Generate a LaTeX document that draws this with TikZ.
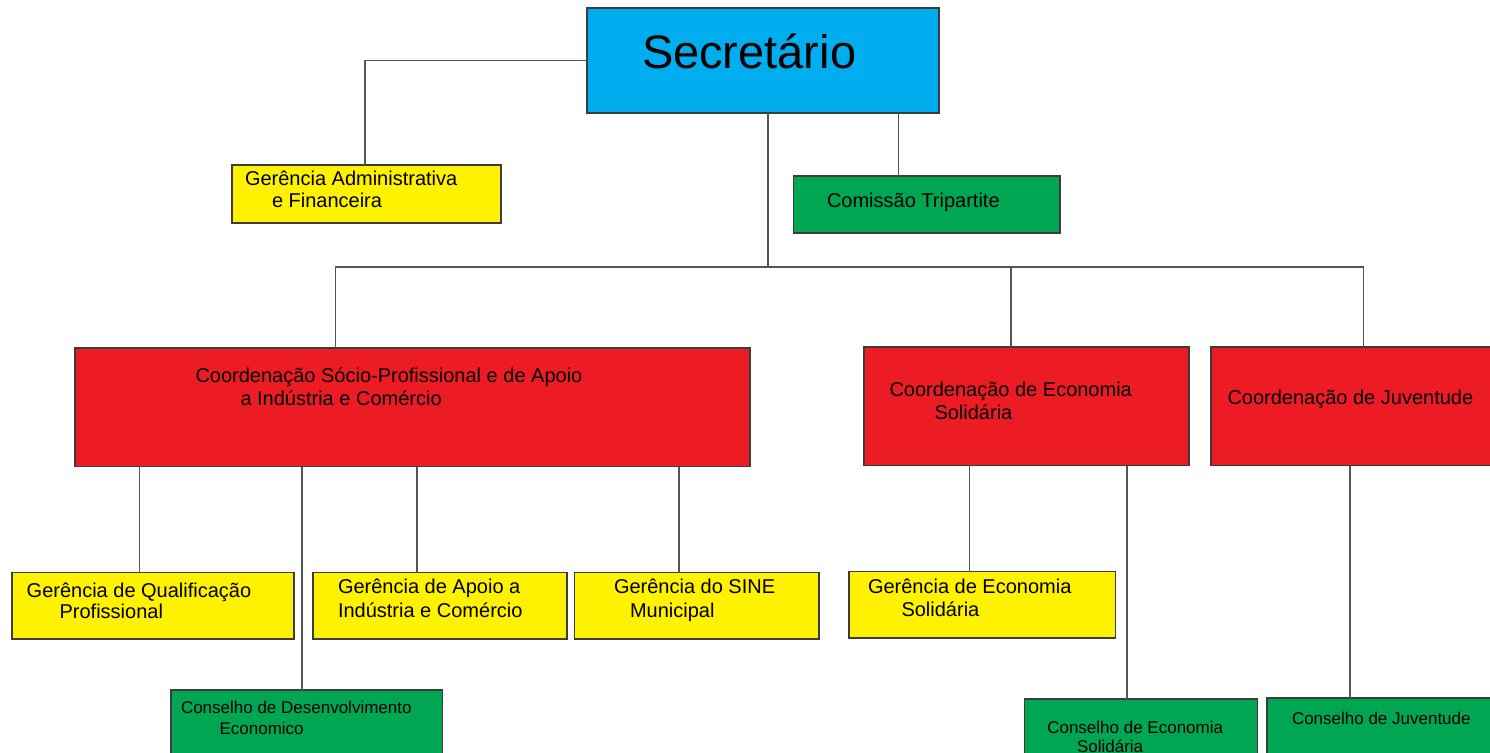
\documentclass[tikz,border=0pt]{standalone}
\usepackage{fontspec}
\setmainfont{Liberation Sans}
\usetikzlibrary{fit}
\definecolor{cyanbox}{RGB}{0,174,239}
\definecolor{yelbox}{RGB}{255,242,0}
\definecolor{grnbox}{RGB}{0,166,81}
\definecolor{redbox}{RGB}{237,28,36}
\definecolor{edgecol}{RGB}{60,60,60}
\definecolor{wire}{RGB}{85,85,85}
\begin{document}
\begin{tikzpicture}[x=1pt,y=-1pt,
  box/.style={draw=edgecol, line width=1.4pt, inner sep=0pt, outer sep=0pt},
  lbl/.style={anchor=base west, inner sep=0pt, outer sep=0pt, font=\fontsize{20}{24}\selectfont},
  slbl/.style={lbl, font=\fontsize{17}{20}\selectfont},
  conn/.style={draw=wire, line width=1.1pt}]
\useasboundingbox (0,0) rectangle (1490,752);
\fill[white] (0,0) rectangle (1490,752);

% boxes
\node[box, fill=cyanbox, fit={(587,8)(939,113)}] (sec) {};
\node[box, fill=yelbox, fit={(232,165)(501,223)}] (gaf) {};
\node[box, fill=grnbox, fit={(793.5,176)(1060,233)}] (ct) {};
\node[box, fill=redbox, fit={(75,348)(750,466.5)}] (cs) {};
\node[box, fill=redbox, fit={(864,347)(1189,465.5)}] (ces) {};
\node[box, fill=redbox, fit={(1211,347)(1497,465.5)}] (cj) {};
\node[box, fill=yelbox, fit={(12,572.5)(294,639)}] (gq) {};
\node[box, fill=yelbox, fit={(313,572.5)(567,639)}] (ga) {};
\node[box, fill=yelbox, fit={(574.5,572.5)(819,639)}] (gs) {};
\node[box, fill=grnbox, fit={(171,690)(442.5,762)}] (cde) {};
\node[box, fill=yelbox, fit={(849,571.5)(1115.5,638)}] (ge) {};
\node[box, fill=grnbox, fit={(1024.5,699)(1257.5,762)}] (cec) {};
\node[box, fill=grnbox, fit={(1267,698)(1497,762)}] (cju) {};

% labels
\node[lbl, font=\fontsize{47}{56}\selectfont] (sec-t) at (642,68) {Secretário};
\node[lbl] (gaf-t1) at (245,185) {Gerência Administrativa};
\node[lbl] (gaf-t2) at (272,207) {e Financeira};
\node[lbl] (ct-t) at (827,207) {Comissão Tripartite};
\node[lbl] (cs-t1) at (195.5,382.5) {Coordenação Sócio-Profissional e de Apoio};
\node[lbl] (cs-t2) at (240.5,405.5) {a Indústria e Comércio};
\node[lbl] (ces-t1) at (889.5,396.5) {Coordenação de Economia};
\node[lbl] (ces-t2) at (934.5,419) {Solidária};
\node[lbl] (cj-t) at (1227.5,404) {Coordenação de Juventude};
\node[lbl] (gq-t1) at (26.7,597) {Gerência de Qualificação};
\node[lbl] (gq-t2) at (59.6,618.5) {Profissional};
\node[lbl] (ga-t1) at (338,593.5) {Gerência de Apoio a};
\node[lbl] (ga-t2) at (338,617) {Indústria e Comércio};
\node[lbl] (gs-t1) at (614,593.5) {Gerência do SINE};
\node[lbl] (gs-t2) at (630,617) {Municipal};
\node[lbl] (ge-t1) at (868,593.5) {Gerência de Economia};
\node[lbl] (ge-t2) at (901.5,616) {Solidária};
\node[slbl] (cde-t1) at (181,713.5) {Conselho de Desenvolvimento};
\node[slbl] (cde-t2) at (219.6,734.5) {Economico};
\node[slbl] (cec-t1) at (1047.3,733.5) {Conselho de Economia};
\node[slbl] (cec-t2) at (1077,752) {Solidária};
\node[slbl] (cju-t) at (1292,724) {Conselho de Juventude};

% connectors
\coordinate (kgaf) at (365,60.5);
\draw[conn] (sec.west) -- (kgaf) -- (kgaf |- gaf.north);
\coordinate (kct) at (898.5,150);
\draw[conn] (kct |- sec.south) -- (kct |- ct.north);

\coordinate (bus) at (768,267);
\coordinate (bl) at (335.5,267);
\coordinate (bm) at (1011,267);
\coordinate (br) at (1363.5,267);
\draw[conn] (bus |- sec.south) -- (bus);
\draw[conn] (bl |- cs.north) -- (bl) -- (br) -- (br |- cj.north);
\draw[conn] (bm) -- (bm |- ces.north);

\coordinate (dq) at (139.4,520);
\coordinate (dd) at (302,520);
\coordinate (da) at (417,520);
\coordinate (ds) at (679,520);
\draw[conn] (dq |- cs.south) -- (dq |- gq.north);
\draw[conn] (dd |- cs.south) -- (dd |- cde.north);
\draw[conn] (da |- cs.south) -- (da |- ga.north);
\draw[conn] (ds |- cs.south) -- (ds |- gs.north);

\coordinate (de) at (969.5,520);
\coordinate (dc) at (1127,520);
\coordinate (dj) at (1350,520);
\draw[conn] (de |- ces.south) -- (de |- ge.north);
\draw[conn] (dc |- ces.south) -- (dc |- cec.north);
\draw[conn] (dj |- cj.south) -- (dj |- cju.north);
\end{tikzpicture}
\end{document}
